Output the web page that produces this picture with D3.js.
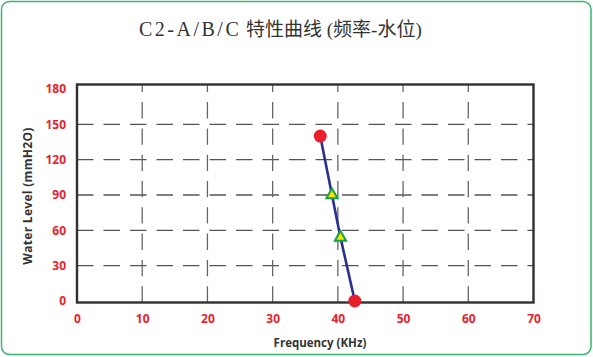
<!DOCTYPE html>
<html>
<head>
<meta charset="utf-8">
<script src="https://cdn.jsdelivr.net/npm/d3@7/dist/d3.min.js"></script>
<style>
  html, body { margin: 0; padding: 0; background: #fff; }
  svg { display: block; }
</style>
</head>
<body>
<svg id="chart" width="593" height="357"></svg>
<script>
// ---- data ----
const titleLatin = "C2-A/B/C";
const titleCJK = " 特性曲线 (频率-水位)";
const xLabel = "Frequency (KHz)";
const yLabel = "Water Level (mmH2O)";
const xTicks = [0, 10, 20, 30, 40, 50, 60, 70];
const yTicks = [0, 30, 60, 90, 120, 150, 180];
const xGrid = [10, 20, 30, 40, 50, 60];
const yGrid = [30, 60, 90, 120, 150];
const frequency = [37.3, 39.1, 40.4, 42.6];
const waterLevel = [140, 90, 54, 0];
const markerType = ["circle", "triangle", "triangle", "circle"];

// ---- layout ----
const svg = d3.select("#chart");
const plot = { left: 77, right: 533.5, top: 84.5, bottom: 302.5 };
const x = d3.scaleLinear().domain([0, 70]).range([plot.left, plot.right]);
const y = d3.scaleLinear().domain([0, 180]).range([301, 89]);

// outer green rounded border
svg.append("rect")
  .attr("x", 1.5).attr("y", 1.5)
  .attr("width", 589.5).attr("height", 353)
  .attr("rx", 8).attr("ry", 8)
  .attr("fill", "#fff")
  .attr("stroke", "#3cb371")
  .attr("stroke-width", 1.5);

// title
const title = svg.append("text")
  .attr("x", 139).attr("y", 36)
  .attr("font-family", "'Liberation Serif', 'DejaVu Serif', 'Noto Sans CJK SC', serif")
  .attr("fill", "#333");
title.append("tspan").attr("font-size", 20).attr("letter-spacing", 2.5).text(titleLatin);
title.append("tspan").attr("font-size", 19).attr("letter-spacing", 0).text(titleCJK);

// grid
const grid = svg.append("g");
grid.selectAll("line.h").data(yGrid).join("line")
  .attr("class", "h")
  .attr("x1", plot.left).attr("x2", plot.right)
  .attr("y1", d => y(d)).attr("y2", d => y(d))
  .attr("stroke", "#555").attr("stroke-width", 1.3)
  .attr("stroke-dasharray", "16.5,10");
grid.selectAll("line.v").data(xGrid).join("line")
  .attr("class", "v")
  .attr("x1", d => x(d)).attr("x2", d => x(d))
  .attr("y1", plot.bottom).attr("y2", plot.top)
  .attr("stroke", "#666").attr("stroke-width", 1.3)
  .attr("stroke-dasharray", "16.3,10");

// frame
svg.append("rect")
  .attr("x", plot.left).attr("y", plot.top)
  .attr("width", plot.right - plot.left).attr("height", plot.bottom - plot.top)
  .attr("fill", "none")
  .attr("stroke", "#332f2e").attr("stroke-width", 2.4);

// axes (labels only)
const xAxis = svg.append("g")
  .attr("transform", `translate(0,${plot.bottom})`)
  .call(d3.axisBottom(x).tickValues(xTicks).tickSize(0).tickPadding(12).tickFormat(d3.format("d")));
const yAxis = svg.append("g")
  .attr("transform", `translate(${plot.left},0)`)
  .call(d3.axisLeft(y).tickValues(yTicks).tickSize(0).tickPadding(11).tickFormat(d3.format("d")));
[xAxis, yAxis].forEach(a => {
  a.select(".domain").remove();
  a.selectAll("text")
    .attr("fill", "#e8212a")
    .attr("font-family", "'Open Sans', 'Noto Sans', sans-serif")
    .attr("font-weight", "bold")
    .attr("font-size", 12);
});

// axis titles
svg.append("text")
  .attr("x", 320).attr("y", 347)
  .attr("text-anchor", "middle")
  .attr("font-family", "'Open Sans', 'Noto Sans', sans-serif")
  .attr("font-weight", "bold")
  .attr("font-size", 11.5)
  .attr("fill", "#333")
  .text(xLabel);
svg.append("text")
  .attr("transform", "translate(32,196) rotate(-90)")
  .attr("text-anchor", "middle")
  .attr("font-family", "'Open Sans', 'Noto Sans', sans-serif")
  .attr("font-weight", "bold")
  .attr("font-size", 12)
  .attr("letter-spacing", 0.3)
  .attr("fill", "#333")
  .text(yLabel);

// data line
const pts = frequency.map((f, i) => ({ f, w: waterLevel[i], t: markerType[i] }));
svg.append("path")
  .datum(pts)
  .attr("fill", "none")
  .attr("stroke", "#2a2f8e")
  .attr("stroke-width", 2.6)
  .attr("d", d3.line().x(d => x(d.f)).y(d => y(d.w)));

// markers
svg.selectAll("circle.pt").data(pts.filter(d => d.t === "circle")).join("circle")
  .attr("class", "pt")
  .attr("cx", d => x(d.f)).attr("cy", d => y(d.w))
  .attr("r", 6.5)
  .attr("fill", "#e8202a");
svg.selectAll("path.tri").data(pts.filter(d => d.t === "triangle")).join("path")
  .attr("class", "tri")
  .attr("transform", d => `translate(${x(d.f)},${y(d.w)})`)
  .attr("d", d3.symbol().type(d3.symbolTriangle).size(55)())
  .attr("fill", "#f5e600")
  .attr("stroke", "#1a9e48")
  .attr("stroke-width", 2);
</script>
</body>
</html>
